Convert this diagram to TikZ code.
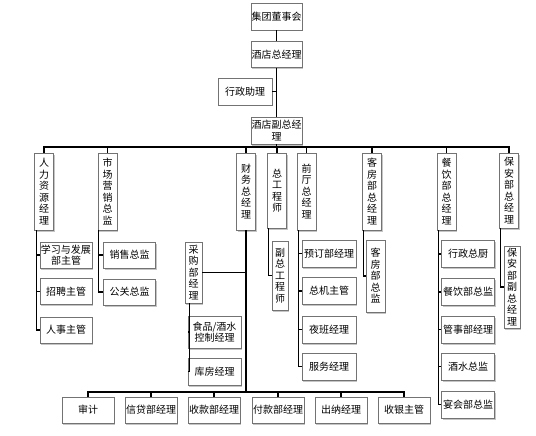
\documentclass[tikz,border=0pt]{standalone}
\usepackage{fontspec}
\newfontfamily\cjk{Noto Sans CJK SC}
\usetikzlibrary{shadows}
\begin{document}
\begin{tikzpicture}[x=1pt,y=-1pt,
 box/.style={draw=black!55, line width=0.6pt, fill=white, inner sep=0pt, align=center,
   font=\cjk\fontsize{10}{11.5}\selectfont,
   drop shadow={shadow xshift=1.2pt, shadow yshift=-1.5pt, fill=black!45, opacity=0.5}},
 hb/.style={box, minimum width=52pt, minimum height=26pt},
 vb/.style={box, minimum width=19pt, minimum height=77pt},
 ln/.style={line width=1.3pt, black}]
\useasboundingbox (0,0) rectangle (536,436);

% top
\node[box, minimum width=51pt, minimum height=27pt] (b1) at (276.5,16.5) {集团董事会};
\node[box, minimum width=51pt, minimum height=26pt] (b2) at (276.5,54.5) {酒店总经理};
\node[box, minimum width=54pt, minimum height=27pt] (a1) at (245,91.5) {行政助理};
\node[box, minimum width=51pt, minimum height=27pt] (b3) at (276.5,130.5) {酒店副总经\\理};

% level 2
\node[vb] (hr) at (44,191.5) {人\\力\\资\\源\\经\\理};
\node[vb] (mk) at (107.5,191.5) {市\\场\\营\\销\\总\\监};
\node[vb] (fi) at (246,191.5) {财\\务\\总\\经\\理};
\node[vb, minimum height=75pt] (ce) at (277,190.5) {总\\工\\程\\师};
\node[vb] (fo) at (306.5,191.5) {前\\厅\\总\\经\\理};
\node[vb] (hk) at (372,191.5) {客\\房\\部\\总\\经\\理};
\node[vb] (fb) at (446.5,191.5) {餐\\饮\\部\\总\\经\\理};
\node[vb, minimum height=75pt] (se) at (509,190.5) {保\\安\\部\\总\\经\\理};

% HR children
\node[hb] (h1) at (66,255) {学习与发展\\部主管};
\node[hb] (h2) at (66,291.5) {招聘主管};
\node[hb] (h3) at (66,330) {人事主管};
% marketing children
\node[hb] (m1) at (129.5,255) {销售总监};
\node[hb] (m2) at (129.5,292) {公关总监};
% finance
\node[box, minimum width=17pt, minimum height=61pt] (p1) at (193.5,272.5) {采\\购\\部\\经\\理};
\node[box, minimum width=53pt, minimum height=32pt] (p2) at (214.5,332) {食品/酒水\\控制经理};
\node[box, minimum width=53pt, minimum height=27pt] (p3) at (214.5,371.5) {库房经理};
% bottom row
\node[hb] (f1) at (88,410) {审计};
\node[hb] (f2) at (151,410) {信贷部经理};
\node[hb] (f3) at (214,410) {收款部经理};
\node[hb] (f4) at (278,410) {付款部经理};
\node[hb] (f5) at (341,410) {出纳经理};
\node[hb] (f6) at (404,410) {收银主管};
% chief engineer
\node[box, minimum width=16pt, minimum height=69pt] (c1) at (280,275.5) {副\\总\\工\\程\\师};
% front office
\node[box, minimum width=54pt, minimum height=27pt] (o1) at (329,253.5) {预订部经理};
\node[box, minimum width=54pt, minimum height=27pt] (o2) at (329,291) {总机主管};
\node[box, minimum width=54pt, minimum height=27pt] (o3) at (329,329.5) {夜班经理};
\node[box, minimum width=54pt, minimum height=27pt] (o4) at (329,366.5) {服务经理};
% housekeeping
\node[box, minimum width=19pt, minimum height=72pt] (k1) at (375.5,276) {客\\房\\部\\总\\监};
% F&B
\node[box, minimum width=53pt, minimum height=27pt] (e1) at (468,254) {行政总厨};
\node[box, minimum width=53pt, minimum height=27pt] (e2) at (468,292) {餐饮部总监};
\node[box, minimum width=53pt, minimum height=27pt] (e3) at (468,329.5) {管事部经理};
\node[box, minimum width=53pt, minimum height=27pt] (e4) at (468,366.5) {酒水总监};
\node[box, minimum width=53pt, minimum height=27pt] (e5) at (468,404.5) {宴会部总监};
% security
\node[box, minimum width=16pt, minimum height=82pt] (s1) at (512,287) {保\\安\\部\\副\\总\\经\\理};

% connectors
\coordinate (bus) at (0,147);
\coordinate (bbus) at (0,392);
\draw[ln] (b1) -- (b2);
\draw[ln] (b2) -- (b3);
\draw[ln] (a1.east) -- (a1.east -| b2.south);
\draw[ln] (b3.south) -- (b3.south |- bus);
\draw[ln] (hr.north) -- (hr.north |- bus) -- (se.north |- bus) -- (se.north);
\foreach \n in {mk,fi,ce,fo,hk,fb}
  \draw[ln] (\n.north) -- (\n.north |- bus);

\foreach \n in {h1,h2,h3}
  \draw[ln] ([xshift=2pt]hr.south west) |- (\n.west);
\foreach \n in {m1,m2}
  \draw[ln] ([xshift=1pt]mk.south west) |- (\n.west);

\draw[ln] (fi.south) -- (fi.south |- bbus);
\draw[ln] (p1.east) -- (p1.east -| fi.south);
\foreach \n in {p2,p3}
  \draw[ln] ([xshift=-4pt]p1.south) |- (\n.west);
\draw[ln] (f1.north) -- (f1.north |- bbus) -- (f6.north |- bbus) -- (f6.north);
\foreach \n in {f2,f3,f4,f5}
  \draw[ln] (\n.north) -- (\n.north |- bbus);

\draw[ln] ([xshift=1pt]ce.south west) |- (c1.west);
\foreach \n in {o1,o2,o3,o4}
  \draw[ln] ([xshift=1.5pt]fo.south west) |- (\n.west);
\draw[ln] ([xshift=1pt]hk.south west) |- (k1.west);
\foreach \n in {e1,e2,e3,e4,e5}
  \draw[ln] ([xshift=1.5pt]fb.south west) |- (\n.west);
\draw[ln] ([xshift=1.5pt]se.south west) |- (s1.west);
\end{tikzpicture}
\end{document}
